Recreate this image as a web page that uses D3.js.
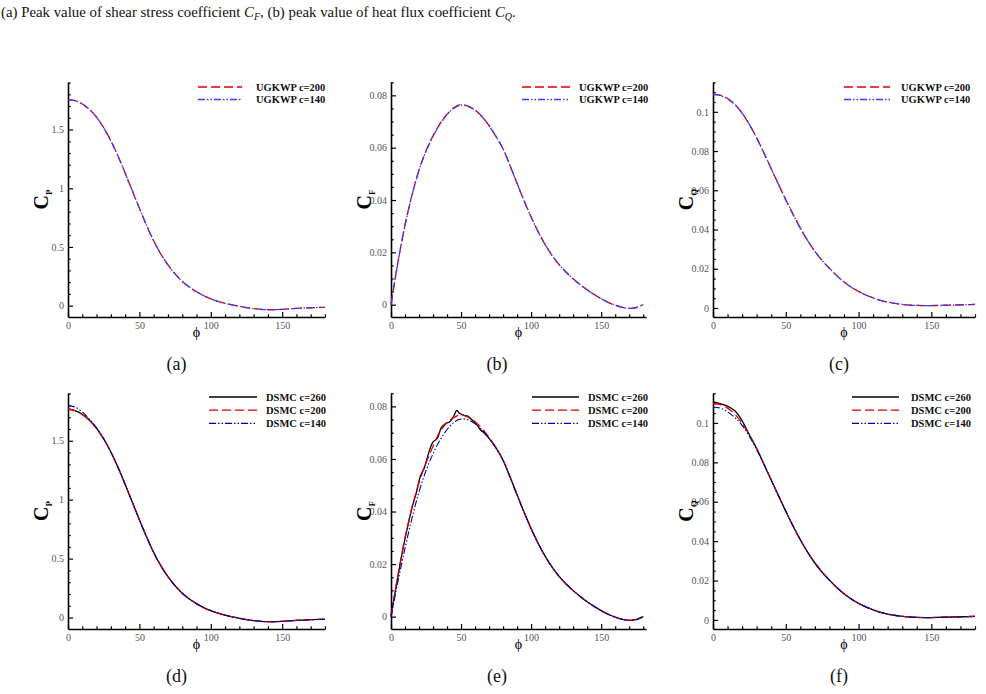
<!DOCTYPE html>
<html>
<head>
<meta charset="utf-8">
<script src="https://cdn.jsdelivr.net/npm/d3@7"></script>
<style>
  body { margin: 0; background: #fff; }
  svg { display: block; }
</style>
</head>
<body>
<svg id="fig" width="986" height="694"></svg>
<script>
// ---- data ----
const phi5 = [0,5,10,15,20,25,30,35,40,45,50,55,60,65,70,75,80,85,90,95,100,105,110,115,120,125,130,135,140,145,150,155,160,165,170,175,180];

// (a) Cp, UGKWP
const cpUg200 = [1.755,1.746,1.718,1.672,1.605,1.515,1.405,1.275,1.13,0.98,0.83,0.685,0.552,0.44,0.347,0.27,0.207,0.158,0.118,0.085,0.058,0.037,0.02,0.006,-0.006,-0.017,-0.026,-0.032,-0.035,-0.035,-0.032,-0.028,-0.024,-0.021,-0.018,-0.016,-0.015];
const cpUg140 = [1.754,1.745,1.717,1.671,1.605,1.515,1.405,1.275,1.13,0.98,0.83,0.685,0.552,0.44,0.347,0.27,0.207,0.158,0.118,0.085,0.058,0.037,0.02,0.006,-0.006,-0.017,-0.026,-0.032,-0.035,-0.035,-0.032,-0.028,-0.024,-0.021,-0.018,-0.016,-0.015];
// (d) Cp, DSMC
const cpDs260 = [1.77,1.756,1.724,1.674,1.605,1.515,1.405,1.275,1.13,0.98,0.83,0.685,0.552,0.44,0.347,0.27,0.207,0.158,0.118,0.085,0.058,0.037,0.02,0.006,-0.006,-0.017,-0.026,-0.032,-0.035,-0.035,-0.032,-0.028,-0.024,-0.021,-0.018,-0.016,-0.015];
const cpDs200 = [1.767,1.754,1.722,1.673,1.605,1.515,1.405,1.275,1.13,0.98,0.83,0.685,0.552,0.44,0.347,0.27,0.207,0.158,0.118,0.085,0.058,0.037,0.02,0.006,-0.006,-0.017,-0.026,-0.032,-0.035,-0.035,-0.032,-0.028,-0.024,-0.021,-0.018,-0.016,-0.015];
const cpDs140 = [1.8,1.785,1.745,1.683,1.61,1.518,1.405,1.275,1.13,0.98,0.83,0.685,0.552,0.44,0.347,0.27,0.207,0.158,0.118,0.085,0.058,0.037,0.02,0.006,-0.006,-0.017,-0.026,-0.032,-0.035,-0.035,-0.032,-0.028,-0.024,-0.021,-0.018,-0.016,-0.015];

// (b) Cf, UGKWP
const cfUg200 = [0,0.0165,0.0305,0.042,0.0515,0.0588,0.0645,0.0692,0.0728,0.0753,0.0765,0.0759,0.0744,0.0719,0.0684,0.0642,0.0595,0.0531,0.0463,0.0397,0.0335,0.0279,0.023,0.0188,0.0153,0.0124,0.0099,0.0077,0.0057,0.0039,0.0023,0.0009,-0.0002,-0.001,-0.0014,-0.0011,0];
const cfUg140 = [0,0.0163,0.0303,0.0418,0.0513,0.0586,0.0643,0.069,0.0726,0.0751,0.0763,0.0758,0.0743,0.0718,0.0684,0.0642,0.0595,0.0531,0.0463,0.0397,0.0335,0.0279,0.023,0.0188,0.0153,0.0124,0.0099,0.0077,0.0057,0.0039,0.0023,0.0009,-0.0002,-0.001,-0.0014,-0.0011,0];
// (e) Cf, DSMC
const phiCf260 = [0,3,6,9,12,15,18,21,24,27,30,33,36,39,42,45,47,49,52,55,58,61,64,67,70,75,80,85,90,95,100,105,110,115,120,125,130,135,140,145,150,155,160,165,170,175,180];
const cfDs260 = [0,0.0095,0.0185,0.027,0.0345,0.0415,0.047,0.0535,0.057,0.0625,0.0665,0.0678,0.072,0.0735,0.0742,0.0765,0.0785,0.0773,0.0766,0.0762,0.0748,0.0732,0.071,0.0696,0.0678,0.0642,0.0595,0.0531,0.0463,0.0397,0.0335,0.0279,0.023,0.0188,0.0153,0.0124,0.0099,0.0077,0.0057,0.0039,0.0023,0.0009,-0.0002,-0.001,-0.0014,-0.0011,0];
const cfDs200 = [0,0.016,0.03,0.0415,0.051,0.0585,0.0648,0.0705,0.0738,0.0758,0.0768,0.0759,0.0742,0.0716,0.0682,0.0642,0.0595,0.0531,0.0463,0.0397,0.0335,0.0279,0.023,0.0188,0.0153,0.0124,0.0099,0.0077,0.0057,0.0039,0.0023,0.0009,-0.0002,-0.001,-0.0014,-0.0011,0];
const cfDs140 = [0,0.0135,0.026,0.0375,0.0475,0.0555,0.062,0.0672,0.0712,0.074,0.0752,0.0749,0.0734,0.071,0.0678,0.064,0.0594,0.0531,0.0463,0.0397,0.0335,0.0279,0.023,0.0188,0.0153,0.0124,0.0099,0.0077,0.0057,0.0039,0.0023,0.0009,-0.0002,-0.001,-0.0014,-0.0011,0];

// (c) Cq, UGKWP
const cqUg200 = [0.109,0.1085,0.1068,0.1038,0.0993,0.0935,0.0867,0.079,0.071,0.063,0.0552,0.0477,0.0407,0.0344,0.0289,0.0242,0.0202,0.0165,0.0133,0.0106,0.0084,0.0066,0.0051,0.0039,0.003,0.0023,0.0018,0.0015,0.0013,0.0012,0.0012,0.0013,0.0014,0.0015,0.0016,0.0017,0.0018];
const cqUg140 = [0.1088,0.1083,0.1066,0.1037,0.0993,0.0935,0.0867,0.079,0.071,0.063,0.0552,0.0477,0.0407,0.0344,0.0289,0.0242,0.0202,0.0165,0.0133,0.0106,0.0084,0.0066,0.0051,0.0039,0.003,0.0023,0.0018,0.0015,0.0013,0.0012,0.0012,0.0013,0.0014,0.0015,0.0016,0.0017,0.0018];
// (f) Cq, DSMC
const phiCq260 = [0,3,6,9,12,15,18,21,25,30,35,40,45,50,55,60,65,70,75,80,85,90,95,100,105,110,115,120,125,130,135,140,145,150,155,160,165,170,175,180];
const cqDs260 = [0.1105,0.1102,0.1096,0.1088,0.1077,0.1062,0.1035,0.0998,0.094,0.087,0.079,0.071,0.063,0.0552,0.0477,0.0407,0.0344,0.0289,0.0242,0.0202,0.0165,0.0133,0.0106,0.0084,0.0066,0.0051,0.0039,0.003,0.0023,0.0018,0.0015,0.0013,0.0012,0.0012,0.0013,0.0014,0.0015,0.0016,0.0017,0.0018];
const cqDs200 = [0.11,0.1093,0.1075,0.1045,0.0998,0.0938,0.0868,0.079,0.071,0.063,0.0552,0.0477,0.0407,0.0344,0.0289,0.0242,0.0202,0.0165,0.0133,0.0106,0.0084,0.0066,0.0051,0.0039,0.003,0.0023,0.0018,0.0015,0.0013,0.0012,0.0012,0.0013,0.0014,0.0015,0.0016,0.0017,0.0018];
const cqDs140 = [0.108,0.1075,0.1056,0.1027,0.0988,0.0932,0.0865,0.079,0.071,0.063,0.0552,0.0477,0.0407,0.0344,0.0289,0.0242,0.0202,0.0165,0.0133,0.0106,0.0084,0.0066,0.0051,0.0039,0.003,0.0023,0.0018,0.0015,0.0013,0.0012,0.0012,0.0013,0.0014,0.0015,0.0016,0.0017,0.0018];

// tick labels
const xMajor = [0, 50, 100, 150];
const cpMajor = [0, 0.5, 1, 1.5];
const cfMajor = [0, 0.02, 0.04, 0.06, 0.08];
const cqMajor = [0, 0.02, 0.04, 0.06, 0.08, 0.1];

const ugNames = ["UGKWP c=200", "UGKWP c=140"];
const dsNames = ["DSMC c=260", "DSMC c=200", "DSMC c=140"];
const captions = ["(a)", "(b)", "(c)", "(d)", "(e)", "(f)"];

// ---- styles ----
const serif = "'Liberation Serif', 'Times New Roman', serif";
const sty = {
  black: { color: "#000", dash: null, w: 1.3 },
  red: { color: "#e00000", dash: "9,4", w: 1.3 },
  blueUg: { color: "#3a3aff", dash: "7,2,1.5,2,1.5,2", w: 1.3 },
  blueDs: { color: "#0000b0", dash: "7,2,1.5,2,1.5,2", w: 1.1 }
};

const zip = (xs, ys) => xs.map((v, i) => [v, ys[i]]);

const svg = d3.select("#fig");

// top caption line
const head = svg.append("text")
  .attr("x", 1).attr("y", 17)
  .style("font-family", serif).style("font-size", "15px").attr("fill", "#111");
head.append("tspan").text("(a) Peak value of shear stress coefficient ");
head.append("tspan").style("font-style", "italic").text("C");
head.append("tspan").attr("dy", 3).style("font-style", "italic").style("font-size", "10px").text("F");
head.append("tspan").attr("dy", -3).text(", (b) peak value of heat flux coefficient ");
head.append("tspan").style("font-style", "italic").text("C");
head.append("tspan").attr("dy", 3).style("font-style", "italic").style("font-size", "10px").text("Q");
head.append("tspan").attr("dy", -3).text(".");
{
  const w = head.node().getComputedTextLength();
  head.style("font-size", (15 * 515 / w) + "px");
}

function drawPanel(p) {
  const x = d3.scaleLinear().domain(p.xDomain).range([p.left, p.right]);
  const y = d3.scaleLinear().domain(p.yDomain).range([p.bottom, p.top]);
  const g = svg.append("g");

  const xMinor = d3.range(0, p.xDomain[1] + 0.001, 10).filter(v => !xMajor.includes(v));
  const yMinor = d3.range(Math.ceil(p.yDomain[0] / p.yStep) * p.yStep, p.yDomain[1], p.yStep)
    .filter(v => !p.yMajor.some(m => Math.abs(m - v) < 1e-9));

  // minor ticks
  g.append("g").attr("transform", `translate(0,${p.bottom})`)
    .call(d3.axisBottom(x).tickValues(xMinor).tickSize(-2.7).tickSizeOuter(0).tickFormat(""))
    .call(a => a.select(".domain").remove());
  g.append("g").attr("transform", `translate(${p.left},0)`)
    .call(d3.axisLeft(y).tickValues(yMinor).tickSize(-2.7).tickSizeOuter(0).tickFormat(""))
    .call(a => a.select(".domain").remove());

  // major axes
  const xa = g.append("g").attr("transform", `translate(0,${p.bottom})`)
    .call(d3.axisBottom(x).tickValues(xMajor).tickSize(-5).tickSizeOuter(0).tickPadding(5));
  const ya = g.append("g").attr("transform", `translate(${p.left},0)`)
    .call(d3.axisLeft(y).tickValues(p.yMajor).tickSize(-5).tickSizeOuter(0).tickPadding(4)
      .tickFormat(d => String(d)));
  [xa, ya].forEach(a => {
    a.attr("font-family", null);
    a.select(".domain").attr("stroke-width", 1.6);
    a.selectAll("text").style("font-family", serif).style("font-size", "10px").attr("fill", "#555");
  });
  g.selectAll(".tick line").attr("stroke", "#000").attr("stroke-width", 1.2);

  // y label: C with subscript, rotated
  const ly = (p.top + p.bottom) / 2, lx = p.left - 20;
  const yl = g.append("text")
    .attr("transform", `translate(${lx},${ly}) rotate(-90)`)
    .attr("text-anchor", "middle")
    .style("font-family", serif).style("font-weight", "bold").style("font-size", "20px")
    .attr("fill", "#000");
  yl.append("tspan").text("C");
  yl.append("tspan").attr("dy", 4).style("font-size", "9px").text(p.sub);

  // x label
  g.append("text")
    .attr("x", (p.left + p.right) / 2).attr("y", p.bottom + 20)
    .attr("text-anchor", "middle")
    .style("font-family", serif).style("font-size", "14px").attr("fill", "#000")
    .text("\u03d5");

  // caption
  g.append("text")
    .attr("x", p.capX).attr("y", p.bottom + 53)
    .attr("text-anchor", "middle")
    .style("font-family", serif).style("font-size", "18px").attr("fill", "#111")
    .text(p.caption);

  // curves
  const line = d3.line().x(d => x(d[0])).y(d => y(d[1])).curve(d3.curveCatmullRom.alpha(0.5));
  p.series.forEach(s => {
    g.append("path").datum(s.pts)
      .attr("d", line)
      .attr("fill", "none")
      .attr("stroke", s.st.color)
      .attr("stroke-width", s.st.w)
      .attr("stroke-dasharray", s.st.dash);
  });

  // legend
  p.series.forEach((s, i) => {
    const yy = p.legY + i * p.legGap;
    g.append("line")
      .attr("x1", p.legX1).attr("x2", p.legX2).attr("y1", yy).attr("y2", yy)
      .attr("stroke", s.st.color).attr("stroke-width", s.st.w)
      .attr("stroke-dasharray", s.st.dash);
    g.append("text")
      .attr("x", p.legT).attr("y", yy + 3.8)
      .style("font-family", serif).style("font-weight", "bold").style("font-size", "10.5px")
      .attr("fill", "#111")
      .text(s.name);
  });
}

const cols = [
  { left: 68, right: 325, xDomain: [0, 180], capX: 176.5, legX1: 198, legX2: 242, legT: 256 },
  { left: 391, right: 646, xDomain: [0, 182], capX: 497, legX1: 522, legX2: 570, legT: 579 },
  { left: 713, right: 975, xDomain: [0, 180], capX: 839, legX1: 844, legX2: 890, legT: 901 }
];
const colsDs = [
  { legX1: 209, legX2: 257, legT: 266 },
  { legX1: 532, legX2: 579, legT: 588 },
  { legX1: 852, legX2: 899, legT: 911 }
];
const rows = [{ top: 82, bottom: 317, legY: 87, legGap: 12.5 }, { top: 393, bottom: 629, legY: 397, legGap: 13.2 }];
const quants = [
  { sub: "P", yDomain: [-0.097, 1.905], yMajor: cpMajor, yStep: 0.1 },
  { sub: "F", yDomain: [-0.0047, 0.0851], yMajor: cfMajor, yStep: 0.005 },
  { sub: "Q", yDomain: [-0.0046, 0.1152], yMajor: cqMajor, yStep: 0.005 }
];

const seriesTable = [
  [
    [{ name: ugNames[0], pts: zip(phi5, cpUg200), st: sty.red }, { name: ugNames[1], pts: zip(phi5, cpUg140), st: sty.blueUg }],
    [{ name: ugNames[0], pts: zip(phi5, cfUg200), st: sty.red }, { name: ugNames[1], pts: zip(phi5, cfUg140), st: sty.blueUg }],
    [{ name: ugNames[0], pts: zip(phi5, cqUg200), st: sty.red }, { name: ugNames[1], pts: zip(phi5, cqUg140), st: sty.blueUg }]
  ],
  [
    [{ name: dsNames[0], pts: zip(phi5, cpDs260), st: sty.black }, { name: dsNames[1], pts: zip(phi5, cpDs200), st: sty.red }, { name: dsNames[2], pts: zip(phi5, cpDs140), st: sty.blueDs }],
    [{ name: dsNames[0], pts: zip(phiCf260, cfDs260), st: sty.black }, { name: dsNames[1], pts: zip(phi5, cfDs200), st: sty.red }, { name: dsNames[2], pts: zip(phi5, cfDs140), st: sty.blueDs }],
    [{ name: dsNames[0], pts: zip(phiCq260, cqDs260), st: sty.black }, { name: dsNames[1], pts: zip(phi5, cqDs200), st: sty.red }, { name: dsNames[2], pts: zip(phi5, cqDs140), st: sty.blueDs }]
  ]
];

rows.forEach((r, ri) => {
  cols.forEach((c, ci) => {
    const leg = ri === 0 ? c : Object.assign({}, c, colsDs[ci]);
    drawPanel(Object.assign({}, quants[ci], c, leg, r, {
      caption: captions[ri * 3 + ci],
      series: seriesTable[ri][ci]
    }));
  });
});
</script>
</body>
</html>
